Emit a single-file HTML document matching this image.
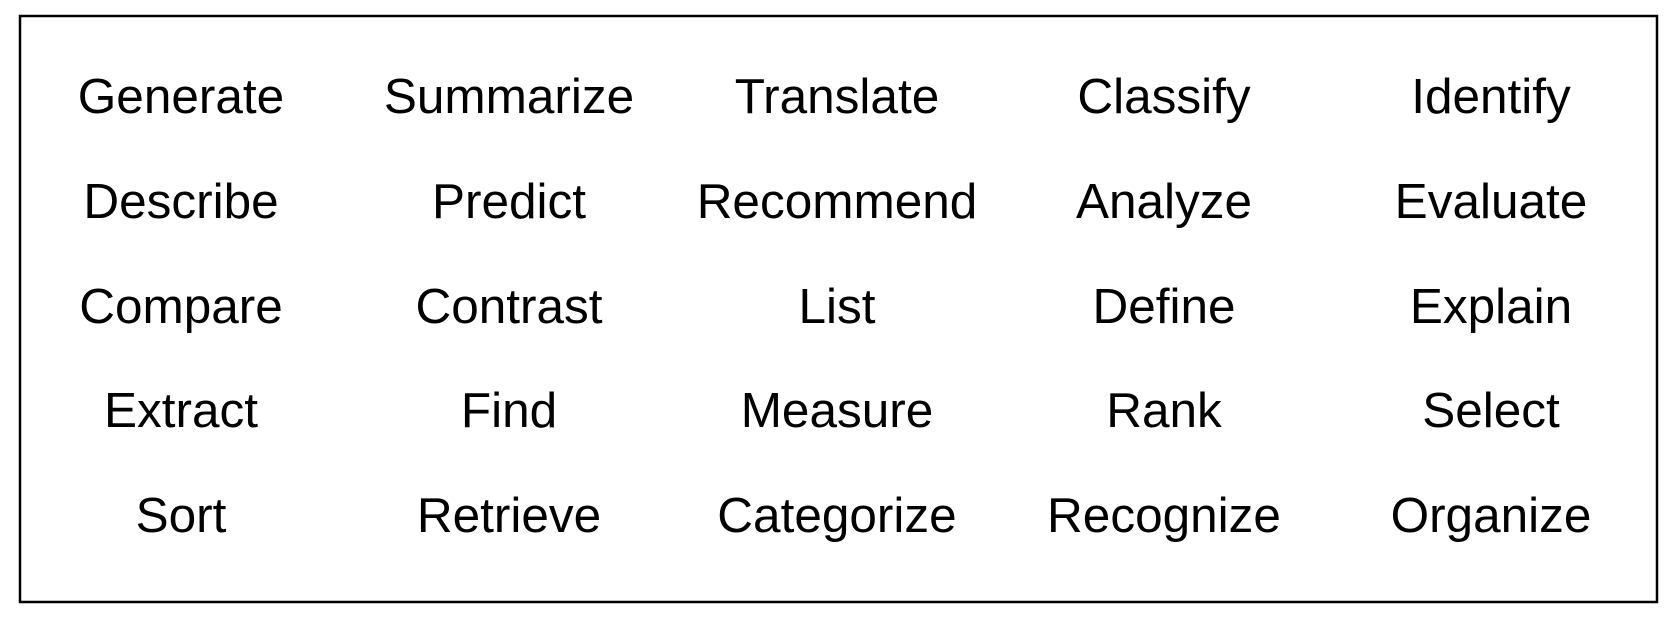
<!DOCTYPE html>
<html><head><style>
html,body{margin:0;padding:0;background:#fff;width:1674px;height:618px;overflow:hidden}
svg text{font-family:"Liberation Sans",Arial,sans-serif;font-size:49.5px;fill:#000;text-anchor:middle}
</style></head><body>
<svg width="1674" height="618" viewBox="0 0 1674 618" xmlns="http://www.w3.org/2000/svg">
<rect x="20" y="16" width="1637" height="586" fill="#fff" stroke="#000" stroke-width="2.5"/>
<g>
<text x="181" y="113">Generate</text><text x="509" y="113">Summarize</text><text x="837" y="113">Translate</text><text x="1164" y="113">Classify</text><text x="1491" y="113">Identify</text>
<text x="181" y="218">Describe</text><text x="509" y="218">Predict</text><text x="837" y="218">Recommend</text><text x="1164" y="218">Analyze</text><text x="1491" y="218">Evaluate</text>
<text x="181" y="323">Compare</text><text x="509" y="323">Contrast</text><text x="837" y="323">List</text><text x="1164" y="323">Define</text><text x="1491" y="323">Explain</text>
<text x="181" y="427">Extract</text><text x="509" y="427">Find</text><text x="837" y="427">Measure</text><text x="1164" y="427">Rank</text><text x="1491" y="427">Select</text>
<text x="181" y="532">Sort</text><text x="509" y="532">Retrieve</text><text x="837" y="532">Categorize</text><text x="1164" y="532">Recognize</text><text x="1491" y="532">Organize</text>
</g>
</svg>
</body></html>
